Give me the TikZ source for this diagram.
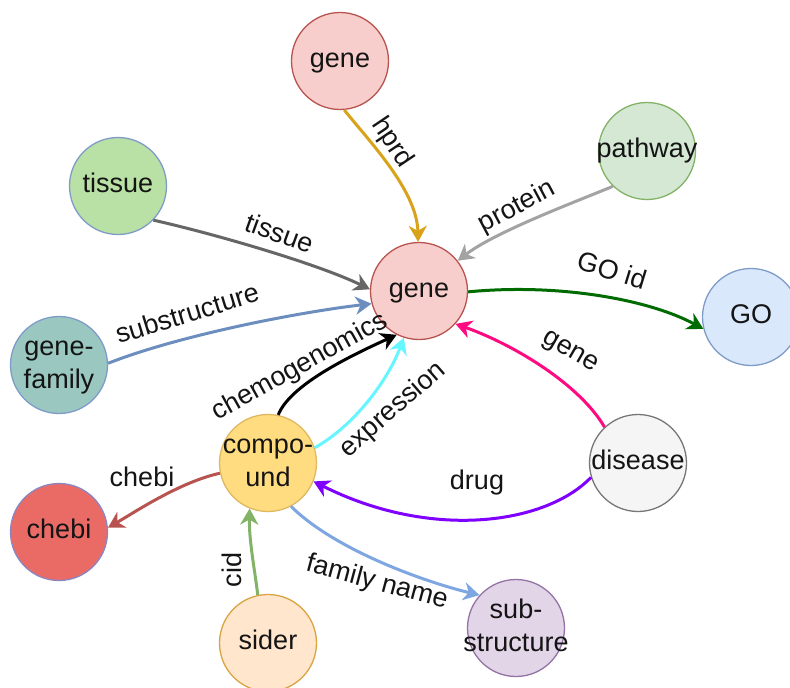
\documentclass[tikz,border=0pt]{standalone}
\usepackage{fontspec}
\setmainfont{Liberation Sans}
\usetikzlibrary{arrows.meta}

% node fills and strokes
\definecolor{geneFill}{HTML}{F8CECC}\definecolor{geneLine}{HTML}{B85450}
\definecolor{tisFill}{HTML}{B9E0A5}\definecolor{blueLine}{HTML}{7F9CC8}
\definecolor{pwFill}{HTML}{D5E8D4}\definecolor{greenLine}{HTML}{82B366}
\definecolor{goFill}{HTML}{DAE8FC}
\definecolor{gfFill}{HTML}{9AC7BF}
\definecolor{cmpFill}{HTML}{FFDC80}\definecolor{cmpLine}{HTML}{E0B860}
\definecolor{disFill}{HTML}{F5F5F5}\definecolor{disLine}{HTML}{777777}
\definecolor{cheFill}{HTML}{EA6B66}\definecolor{cheLine}{HTML}{8A86C0}
\definecolor{sidFill}{HTML}{FFE6CC}\definecolor{sidLine}{HTML}{D9A441}
\definecolor{subFill}{HTML}{E1D5E7}\definecolor{subLine}{HTML}{9673A6}
% connector colours
\definecolor{cHprd}{HTML}{D9A21B}
\definecolor{cTissue}{HTML}{666666}
\definecolor{cProtein}{HTML}{A3A3A3}
\definecolor{cGo}{HTML}{006B00}
\definecolor{cSubst}{HTML}{6C8EBF}
\definecolor{cExpr}{HTML}{66F6FF}
\definecolor{cGene}{HTML}{FF0A80}
\definecolor{cDrug}{HTML}{7F00FF}
\definecolor{cChebi}{HTML}{B85450}
\definecolor{cCid}{HTML}{82B366}
\definecolor{cFam}{HTML}{7EA6E0}

% zero-width text so the circle keeps its fixed size
\newcommand{\ctext}[1]{\makebox[0pt]{\begin{tabular}{@{}c@{}}#1\end{tabular}}}

\tikzset{
  ent/.style={circle, draw, line width=1.3pt, minimum size=97pt, inner sep=0pt,
              font=\fontsize{27}{33}\selectfont, text=black!92},
  rel/.style={line width=3pt, -{Stealth[length=16pt,width=18pt,inset=5pt]}},
  lbl/.style={font=\fontsize{27}{33}\selectfont, inner sep=1pt, text=black!92},
}

\begin{document}
\begin{tikzpicture}[x=1pt, y=-1pt]
\useasboundingbox (0,0) rectangle (790,688);
\fill[white] (0,0) rectangle (790,688);

% entities
\node[ent, fill=geneFill, draw=geneLine] (gt)  at (340,61)  {\ctext{gene}};
\node[ent, fill=tisFill,  draw=blueLine] (tis) at (118,186) {\ctext{tissue}};
\node[ent, fill=pwFill,   draw=greenLine] (pw) at (647,151) {\ctext{pathway}};
\node[ent, fill=geneFill, draw=geneLine] (g)   at (419,291) {\ctext{gene}};
\node[ent, fill=goFill,   draw=blueLine] (go)  at (751,317) {\ctext{GO}};
\node[ent, fill=gfFill,   draw=blueLine] (gf)  at (59,365)  {\ctext{gene-\\family}};
\node[ent, fill=cmpFill,  draw=cmpLine]  (cmp) at (268,463) {\ctext{compo-\\und}};
\node[ent, fill=disFill,  draw=disLine]  (dis) at (638,463) {\ctext{disease}};
\node[ent, fill=cheFill,  draw=cheLine]  (che) at (59,532)  {\ctext{chebi}};
\node[ent, fill=sidFill,  draw=sidLine]  (sid) at (268,643) {\ctext{sider}};
\node[ent, fill=subFill,  draw=subLine]  (sub) at (516,628) {\ctext{sub-\\structure}};

% relations
\draw[rel, cHprd]    (gt.-85)  .. controls (368,140) and (417,190) .. (g.91);
\draw[rel, cTissue]  (tis.-44) .. controls (215,234) and (318,264) .. (g.178);
\draw[rel, cProtein] (pw.-134) .. controls (575,202) and (495,232) .. (g.38);
\draw[rel, cGo]      (g.-1)    .. controls (560,283) and (650,300) .. (go.194);
\draw[rel, cSubst]   (gf.2)    .. controls (180,335) and (300,312) .. (g.195);
\draw[rel, black]    (cmp.78)  .. controls (290,385) and (350,356) .. (g.-117);
\draw[rel, cExpr]    (cmp.18)  .. controls (355,425) and (388,380) .. (g.-108);
\draw[rel, cGene]    (dis.133) .. controls (580,385) and (515,345) .. (g.-42);
\draw[rel, cDrug]    (dis.197) .. controls (545,525) and (430,540) .. (cmp.-22);
\draw[rel, cChebi]   (cmp.192) .. controls (180,482) and (135,512) .. (che.5);
\draw[rel, cCid]     (sid.102) .. controls (254,565) and (249,540) .. (cmp.-112);
\draw[rel, cFam]     (cmp.-62) .. controls (335,550) and (425,582) .. (sub.138);

% relation labels
\node[lbl, rotate=-56] (lHprd)  at (392,143) {hprd};
\node[lbl, rotate=-20] (lTis)   at (280,233) {tissue};
\node[lbl, rotate=28]  (lProt)  at (517,207) {protein};
\node[lbl, rotate=-17] (lGo)    at (612,270) {GO id};
\node[lbl, rotate=17]  (lSubst) at (187,313) {substructure};
\node[lbl, rotate=29]  (lChem)  at (300,367) {chemogenomics};
\node[lbl, rotate=41]  (lExpr)  at (393,410) {expression};
\node[lbl, rotate=-30] (lGene)  at (570,353) {gene};
\node[lbl]             (lDrug)  at (477,483) {drug};
\node[lbl]             (lChebi) at (142,477) {chebi};
\node[lbl, rotate=90]  (lCid)   at (232,570) {cid};
\node[lbl, rotate=-15] (lFam)   at (377,583) {family name};
\end{tikzpicture}
\end{document}
